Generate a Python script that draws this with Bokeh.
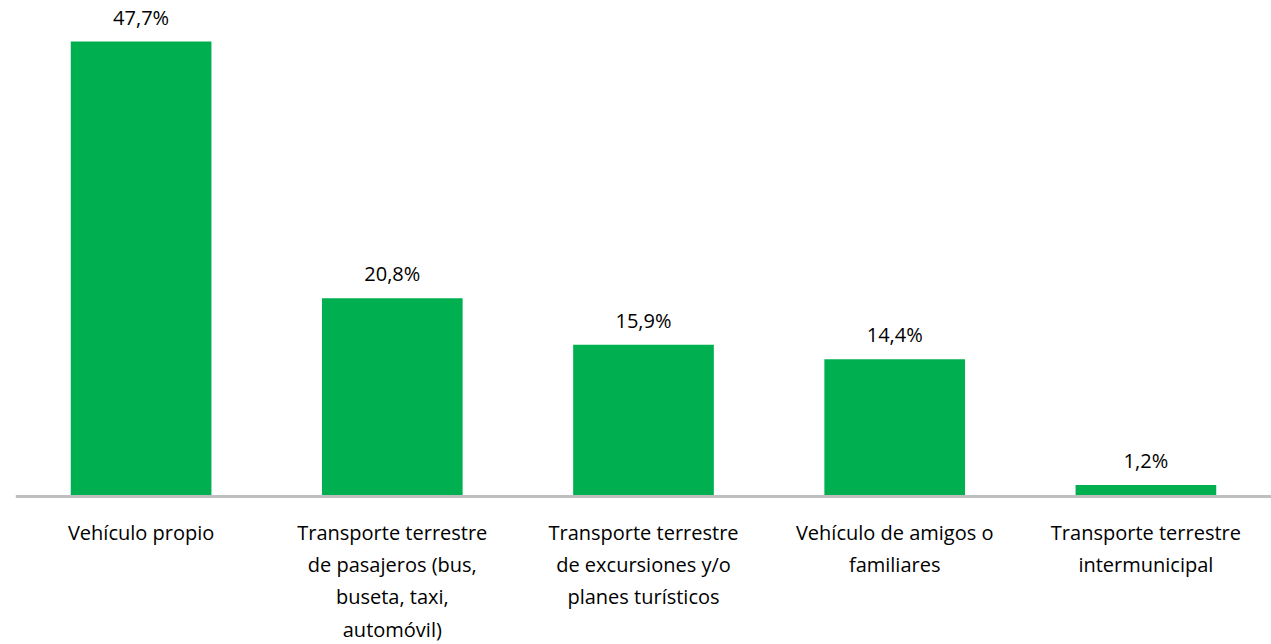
from bokeh.plotting import figure
from bokeh.models import ColumnDataSource, FactorRange, Range1d, Span
from bokeh.core.properties import value
from bokeh.embed import file_html
from bokeh.resources import INLINE

categories = ["Vehículo propio",
              "Transporte terrestre de pasajeros (bus, buseta, taxi, automóvil)",
              "Transporte terrestre de excursiones y/o planes turísticos",
              "Vehículo de amigos o familiares",
              "Transporte terrestre intermunicipal"]
tick_labels = ["Vehículo propio",
               "Transporte terrestre\nde pasajeros (bus,\nbuseta, taxi,\nautomóvil)",
               "Transporte terrestre\nde excursiones y/o\nplanes turísticos",
               "Vehículo de amigos o\nfamiliares",
               "Transporte terrestre\nintermunicipal"]
values = [47.7, 20.8, 15.9, 14.4, 1.2]
value_labels = ["47,7%", "20,8%", "15,9%", "14,4%", "1,2%"]

FONT = "Open Sans"
src = ColumnDataSource(dict(cat=categories, val=values, lab=value_labels,
                            tick=tick_labels, zero=[0] * len(values)))

p = figure(width=1271, height=644, output_backend="svg", toolbar_location=None,
           x_range=FactorRange(*categories, range_padding=0),
           y_range=Range1d(-15.51, 52.0),
           min_border_left=15, min_border_right=0, min_border_top=0, min_border_bottom=0)

p.vbar(x="cat", top="val", width=0.56, source=src, fill_color="#00B050", line_color=None)

p.add_layout(Span(location=0, dimension="width", line_color="#BFBFBF", line_width=3))

p.text(x="cat", y="val", text="lab", source=src, text_align="center", text_baseline="bottom",
       y_offset=-11, text_font=value(FONT), text_font_size="20px", text_color="#000000")

p.text(x="cat", y="zero", text="tick", source=src, text_align="center", text_baseline="top",
       y_offset=22, text_font=value(FONT), text_font_size="20px", text_color="#000000",
       text_line_height=1.2)

p.xaxis.visible = False
p.yaxis.visible = False
p.xgrid.visible = False
p.ygrid.visible = False
p.outline_line_color = None
p.background_fill_color = "white"
p.border_fill_color = "white"

open("out.html", "w").write(file_html(p, INLINE))
